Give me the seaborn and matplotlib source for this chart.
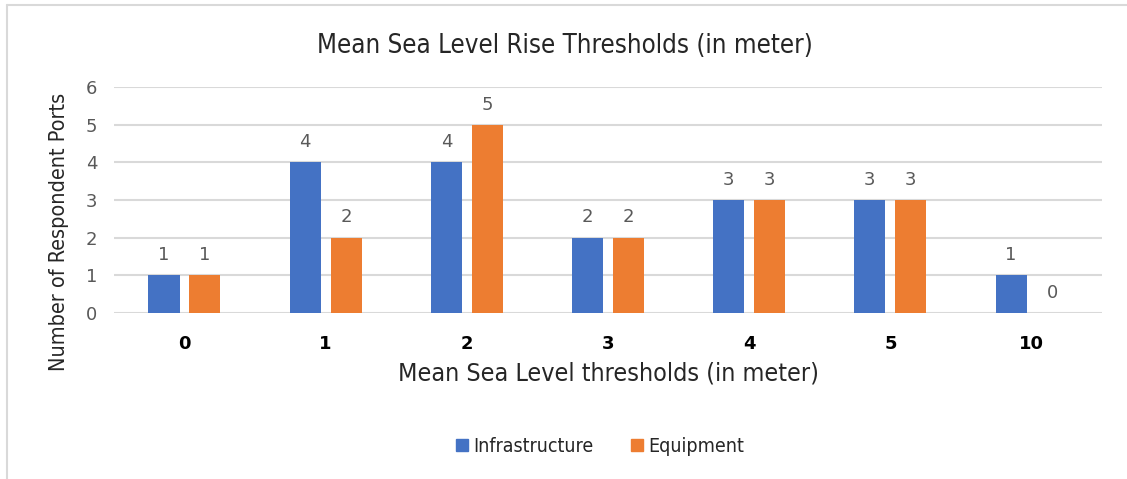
import pandas as pd
import matplotlib
matplotlib.use("Agg")
import matplotlib.pyplot as plt
import seaborn as sns
from matplotlib.lines import Line2D
from matplotlib.font_manager import FontProperties

# Données
thresholds = ["0", "1", "2", "3", "4", "5", "10"]
infrastructure = [1, 4, 4, 2, 3, 3, 1]
equipment = [1, 2, 5, 2, 3, 3, 0]
series = ["Infrastructure", "Equipment"]
colors = ["#4472C4", "#ED7D31"]

df = pd.DataFrame({
    "threshold": thresholds * 2,
    "count": infrastructure + equipment,
    "series": [series[0]] * len(thresholds) + [series[1]] * len(thresholds),
})

sns.set_style("white")
plt.rcParams["font.family"] = ["DejaVu Sans"]


def narrow(size):
    return FontProperties(family="DejaVu Sans", stretch="condensed", size=size)


fig = plt.figure(figsize=(11.27, 4.79), dpi=100)
ax = fig.add_axes([0.101, 0.347, 0.877, 0.471])

sns.barplot(data=df, x="threshold", y="count", hue="series", order=thresholds,
            hue_order=series, palette=colors, width=0.58, gap=0.24,
            saturation=1, linewidth=0, ax=ax, legend=False)

# Étiquettes de valeurs
for cont in ax.containers:
    ax.bar_label(cont, padding=8, color="#595959", fontsize=13)

ax.set_ylim(0, 6)
ax.set_xlim(-0.5, len(thresholds) - 0.5)
ax.set_yticks(range(0, 7))
ax.grid(axis="y", color="#D9D9D9", lw=1.5)
ax.set_axisbelow(True)
sns.despine(ax=ax, left=True, bottom=True)
ax.tick_params(axis="both", length=0)
ax.tick_params(axis="y", colors="#595959", labelsize=13, pad=12)
for t in ax.get_xticklabels():
    t.set_fontweight("bold")
    t.set_fontsize(13)
    t.set_color("black")
ax.tick_params(axis="x", pad=16)

ax.set_xlabel("Mean Sea Level thresholds (in meter)", fontproperties=narrow(18),
              labelpad=6)
ax.set_ylabel("Number of Respondent Ports", fontproperties=narrow(15.5))
ax.yaxis.set_label_coords(-0.045, 0.36)
fig.text(0.501, 0.905, "Mean Sea Level Rise Thresholds (in meter)",
         ha="center", va="center", fontproperties=narrow(18.5))

handles = [Line2D([], [], marker="s", ls="", markersize=9, color=c) for c in colors]
fig.legend(handles, series, loc="center", bbox_to_anchor=(0.53, 0.068),
           ncol=2, frameon=False, prop=narrow(14),
           handletextpad=0.0, columnspacing=1.6, handlelength=1.2)

# Cadre gris
fig.add_artist(Line2D([0.006, 0.006], [0, 0.99], color="#D9D9D9", lw=1.5))
fig.add_artist(Line2D([0.006, 1], [0.99, 0.99], color="#D9D9D9", lw=1.5))

fig.savefig("out.png", dpi=100)
